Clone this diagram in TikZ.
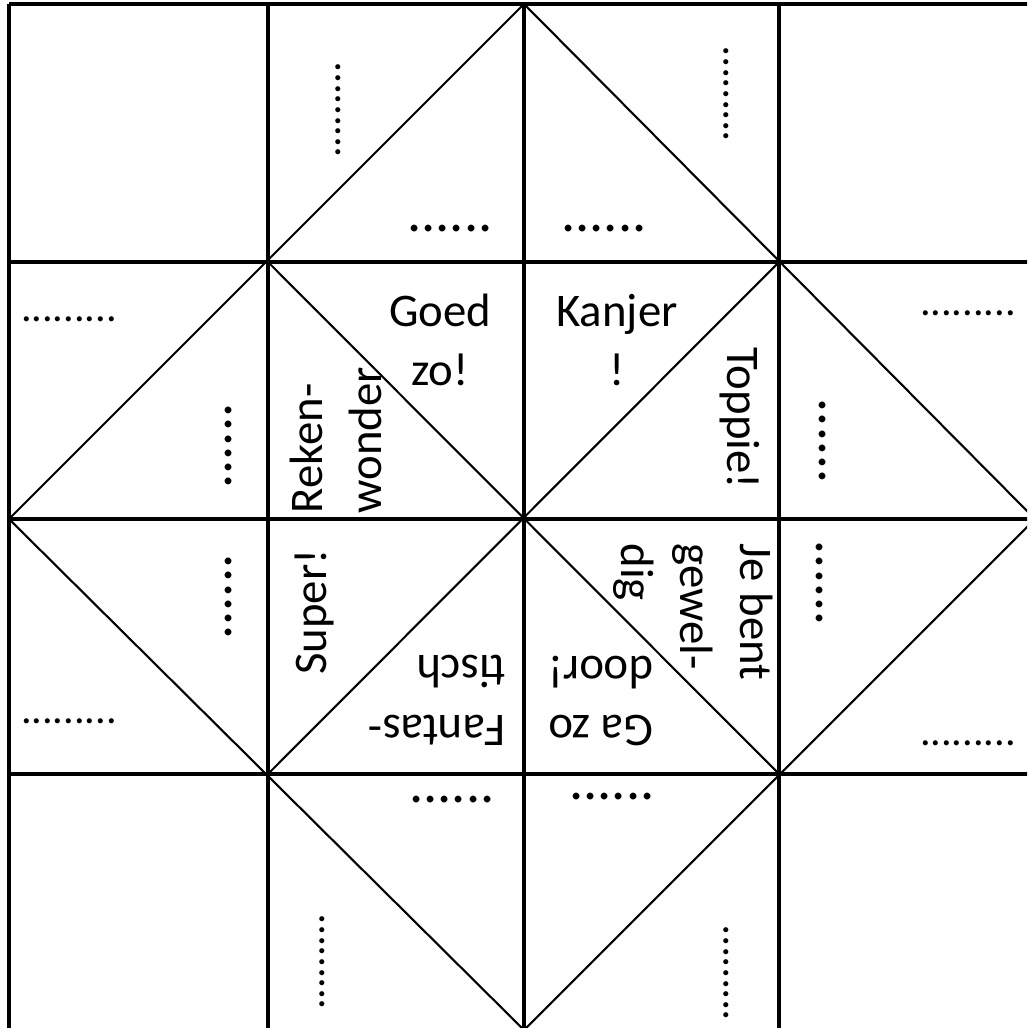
\documentclass[tikz,border=0pt]{standalone}
\usepackage{fontspec}
\setmainfont{Carlito}

\begin{document}
\begin{tikzpicture}[x=0.01cm,y=-0.01cm,
    fold/.style={line width=0.9pt},
    crease/.style={line width=0.6pt},
    word/.style={font=\fontsize{13.3}{17}\selectfont,inner sep=0pt},
    blanklong/.style={font=\fontsize{12}{14}\selectfont,inner sep=0pt},
    blankshort/.style={font=\fontsize{16}{19}\selectfont,inner sep=0pt}
]
    \useasboundingbox (0,0) rectangle (1027,1028);
    \clip (0,0) rectangle (1027,1028);

    % squares (right and bottom edge fall outside the sheet)
    \foreach \x in {9,268,524,779}
        \draw[fold] (\x,4) -- (\x,1060);
    \foreach \y in {4,262,519,774}
        \draw[fold] (9,\y) -- (1060,\y);

    % folding lines
    \draw[crease] (524,4) -- (1035,519) -- (524,1030) -- (9,519) -- cycle;
    \draw[crease] (268,262) -- (779,774) (779,262) -- (268,774);

    % empty fields
    \foreach \name/\x/\y/\angle in {
        a/69/319/0,b/968/313/0,c/69/721/0,d/968/743/0,
        e/338/110/90,f/726/94/90,g/322/962/90,h/726/973/90} {
        \node[blanklong,rotate=\angle] (long-\name) at (\x,\y) {.........};
    }
    \foreach \name/\x/\y/\angle in {
        a/450/229/0,b/604/229/0,c/452/800/0,d/612/797/0,
        e/229/446/90,f/823/441/90,g/229/597/90,h/820/583/90} {
        \node[blankshort,rotate=\angle] (short-\name) at (\x,\y) {......};
    }

    % compliments
    \node[word,align=center] (goed) at (440,340) {Goed\\zo!};
    \node[word,align=center] (kanjer) at (617,340) {Kanjer\\!};
    \node[word,rotate=-90] (toppie) at (740,418) {Toppie!};
    \node[word,align=left,rotate=90,anchor=west] (reken) at (336,514)
        {Reken-\\wonder};
    \node[word,rotate=90] (super) at (314,612) {Super!};
    \node[word,align=left,rotate=180,anchor=west] (fantas) at (506,700)
        {Fantas-\\tisch};
    \node[word,align=left,rotate=180,anchor=west] (gazo) at (654,701)
        {Ga zo\\door!};
    \node[word,align=left,rotate=-90,anchor=west] (jebent) at (693,543)
        {Je bent\\gewel-\\dig};

\end{tikzpicture}
\end{document}
